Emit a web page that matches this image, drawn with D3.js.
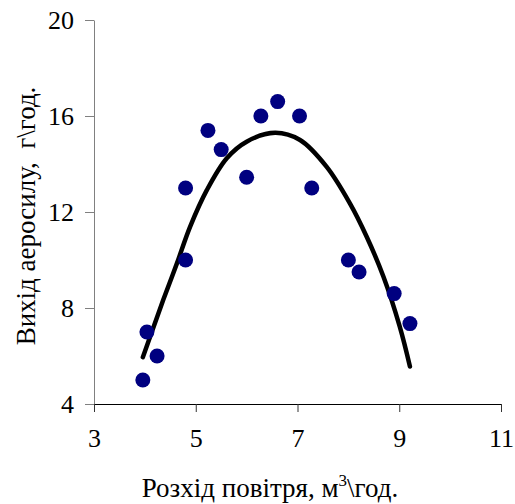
<!DOCTYPE html>
<html>
<head>
<meta charset="utf-8">
<script src="https://cdn.jsdelivr.net/npm/d3@7"></script>
<style>
  body { margin: 0; background: #fff; }
  text { font-family: "Liberation Serif", "Times New Roman", serif; fill: #000; }
</style>
</head>
<body>
<div class="chart"></div>
<script>
// measured points: air flow (m3/h) and aerosil output (g/h)
var flowX = [3.96, 4.04, 4.24, 4.80, 4.80, 5.24, 5.50, 6.00, 6.28, 6.61, 7.04, 7.28, 8.00, 8.21, 8.90, 9.21];
var outY  = [5.0, 7.0, 6.0, 10.0, 13.0, 15.4, 14.6, 13.45, 16.0, 16.6, 16.0, 13.0, 10.0, 9.5, 8.6, 7.35];

// trend line at several spots
var trendX = [3.96, 4.36, 4.63, 4.89, 5.22, 5.61, 6.00, 6.56, 7.05, 7.57, 8.03, 8.36, 8.69, 9.01, 9.21];
var trendY = [5.95, 8.33, 9.86, 11.39, 12.92, 14.24, 14.93, 15.30, 15.0, 13.89, 12.36, 10.97, 9.30, 7.22, 5.56];

var xTicks = [3, 5, 7, 9, 11];
var yTicks = [4, 8, 12, 16, 20];

var w = 515, h = 504;
// plot box (note: "top" is taken by window.top, so use other names)
var padL = 94, padT = 20, padR = 501, padB = 404;

var svg = d3.select(".chart").append("svg")
  .attr("width", w).attr("height", h);

var x = d3.scaleLinear().domain([3, 11]).range([padL, padR]);
var y = d3.scaleLinear().domain([4, 20]).range([padB, padT]);

// y axis (grey line, ticks to the left)
var gy = svg.append("g")
  .attr("transform", "translate(" + padL + ",0)")
  .call(d3.axisLeft(y).tickValues(yTicks).tickSize(9).tickPadding(11).tickSizeOuter(0));
gy.select(".domain").attr("stroke", "#808080");
gy.selectAll(".tick line").attr("stroke", "#808080");

// x axis
var gx = svg.append("g")
  .attr("transform", "translate(0," + padB + ")")
  .call(d3.axisBottom(x).tickValues(xTicks).tickSize(8).tickPadding(17).tickSizeOuter(0));
gx.select(".domain").attr("stroke", "#000");
gx.selectAll(".tick line").attr("stroke", "#333");

svg.selectAll(".tick text")
  .attr("font-family", "Liberation Serif")
  .attr("font-size", 26)
  .attr("fill", "#000");

// trend curve
var line = d3.line()
  .x(function(d) { return x(d[0]); })
  .y(function(d) { return y(d[1]); })
  .curve(d3.curveCatmullRom);

svg.append("path")
  .datum(d3.zip(trendX, trendY))
  .attr("d", line)
  .attr("fill", "none")
  .attr("stroke", "#000")
  .attr("stroke-width", 4.5)
  .attr("stroke-linecap", "round");

// points
svg.selectAll("circle")
  .data(d3.zip(flowX, outY))
  .enter()
  .append("circle")
  .attr("cx", function(d) { return x(d[0]); })
  .attr("cy", function(d) { return y(d[1]); })
  .attr("r", 7.5)
  .attr("fill", "#000080");

// axis titles
var xt = svg.append("text")
  .attr("x", 270).attr("y", 497)
  .attr("text-anchor", "middle")
  .attr("font-size", 27);
xt.append("tspan").text("Розхід повітря, м");
xt.append("tspan").attr("dy", -11).attr("font-size", 17).text("3");
xt.append("tspan").attr("dy", 11).text("\\год.");

svg.append("text")
  .attr("transform", "translate(35,216) rotate(-90)")
  .attr("text-anchor", "middle")
  .attr("font-size", 27)
  .attr("xml:space", "preserve")
  .text("Вихід аеросилу,  г\\год.");
</script>
</body>
</html>
